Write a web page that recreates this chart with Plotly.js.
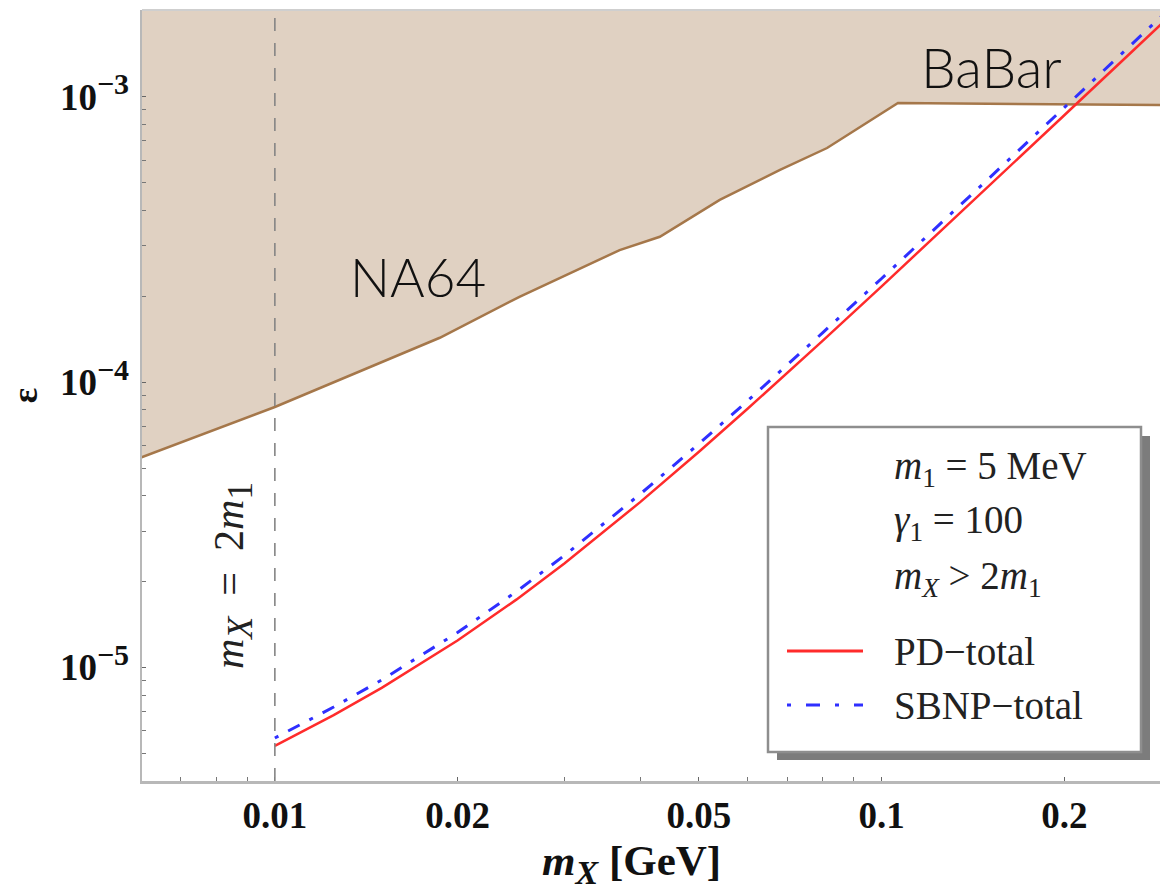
<!DOCTYPE html>
<html>
<head>
<meta charset="utf-8">
<script src="https://cdn.plot.ly/plotly-3.0.1.min.js"></script>
<style>
  html, body { margin: 0; padding: 0; background: #ffffff; }
  #chart { width: 1160px; height: 895px; }
</style>
</head>
<body>
<div id="chart"></div>
<script>
// Lower edge of the NA64 / BaBar excluded region (mass in GeV, kinetic mixing epsilon)
const na64Mass = [0.006, 0.01, 0.0187, 0.0253, 0.037, 0.0385, 0.0431, 0.0541, 0.068, 0.0813, 0.1064, 0.29];
const na64Eps  = [5.43e-5, 8.18e-5, 1.43e-4, 1.99e-4, 2.90e-4, 2.98e-4, 3.23e-4, 4.35e-4, 5.54e-4, 6.61e-4, 9.5e-4, 9.35e-4];

// Sensitivity curves for m1 = 5 MeV, gamma1 = 100
const massGrid  = [0.01, 0.0125, 0.015, 0.02, 0.025, 0.03, 0.04, 0.05, 0.06, 0.07, 0.08, 0.1, 0.12, 0.15, 0.2, 0.25, 0.29];
const pdTotal   = [5.31e-6, 6.81e-6, 8.48e-6, 1.243e-5, 1.729e-5, 2.315e-5, 3.797e-5, 5.70e-5, 8.03e-5, 1.079e-4, 1.398e-4, 2.165e-4, 3.107e-4, 4.842e-4, 8.61e-4, 1.345e-3, 1.81e-3];
const sbnpTotal = [5.66e-6, 7.27e-6, 9.04e-6, 1.326e-5, 1.844e-5, 2.469e-5, 4.05e-5, 6.08e-5, 8.56e-5, 1.151e-4, 1.491e-4, 2.307e-4, 3.308e-4, 5.157e-4, 9.16e-4, 1.429e-3, 1.923e-3];

// Threshold m_X = 2 m1
const thresholdMass = 0.01;
// Upper edge used to close the shaded region
const regionTop = 1e-2;

// Tick positions and labels
const xTickVals = [0.01, 0.02, 0.05, 0.1, 0.2];
const xTickText = ['0.01', '0.02', '0.05', '0.1', '0.2'];
const xMinorVals = [0.007, 0.008, 0.009, 0.03, 0.04, 0.06, 0.07, 0.08, 0.09];
const supOpen = '<sup><span style="font-size:30px">';
const supClose = '</span></sup>';
const yTickVals = [1e-5, 1e-4, 1e-3];
const yTickText = ['10' + supOpen + '\u22125' + supClose,
                   '10' + supOpen + '\u22124' + supClose,
                   '10' + supOpen + '\u22123' + supClose];
const yMinorVals = [5e-6, 6e-6, 7e-6, 8e-6, 9e-6,
                    2e-5, 3e-5, 4e-5, 5e-5, 6e-5, 7e-5, 8e-5, 9e-5,
                    2e-4, 3e-4, 4e-4, 5e-4, 6e-4, 7e-4, 8e-4, 9e-4, 2e-3];

// Plot-area pixel frame and helpers to place decorations in paper units
const L = 142, R = 1160, T = 10, B = 781;
const px = v => (v - L) / (R - L);
const py = v => (B - v) / (B - T);

const serif = 'Liberation Serif, Times New Roman, serif';
const sans = 'Lato, Liberation Sans, sans-serif';

const fillColor = '#e0d1c2';
const edgeColor = '#a5774a';
const red = '#ff2b2b';
const blue = '#2f2fff';
const blueDash = '4px,11px,13px,11px';

const traces = [
  {
    // shaded excluded region
    x: na64Mass.concat([na64Mass[na64Mass.length - 1], na64Mass[0]]),
    y: na64Eps.concat([regionTop, regionTop]),
    mode: 'lines', fill: 'toself', fillcolor: fillColor,
    line: { width: 0 }, hoverinfo: 'skip', showlegend: false
  },
  {
    x: na64Mass, y: na64Eps, mode: 'lines', name: 'NA64 / BaBar',
    line: { color: edgeColor, width: 2.5 }, showlegend: false
  },
  {
    x: massGrid, y: sbnpTotal, mode: 'lines', name: 'SBNP\u2212total',
    line: { color: blue, width: 3, dash: blueDash },
    showlegend: false
  },
  {
    x: massGrid, y: pdTotal, mode: 'lines', name: 'PD\u2212total',
    line: { color: red, width: 2.5 },
    showlegend: false
  }
];

const axisCommon = {
  type: 'log', showgrid: false, zeroline: false,
  showline: true, linecolor: '#b8b8b8', linewidth: 2.5,
  ticks: 'inside', ticklen: 4, tickwidth: 1, tickcolor: '#666',
  tickfont: { family: serif, size: 37, color: '#111', weight: 700 },
  tickmode: 'array'
};
const minorCommon = { tickmode: 'array', ticks: 'inside', ticklen: 4, tickwidth: 1, tickcolor: '#777', showgrid: false };

const layout = {
  width: 1160, height: 895,
  margin: { l: L, r: 1160 - R, t: T, b: 895 - B, pad: 0 },
  paper_bgcolor: '#ffffff', plot_bgcolor: '#ffffff',
  showlegend: false,
  xaxis: Object.assign({}, axisCommon, {
    range: [Math.log10(0.00604), Math.log10(0.2876)],
    tickvals: xTickVals, ticktext: xTickText,
    minor: Object.assign({ tickvals: xMinorVals }, minorCommon),
    ticklabelstandoff: 0
  }),
  yaxis: Object.assign({}, axisCommon, {
    range: [-5.3977, -2.6962],
    tickvals: yTickVals, ticktext: yTickText,
    minor: Object.assign({ tickvals: yMinorVals }, minorCommon),
    ticklabelstandoff: 3,
    title: { text: '\u03b5', font: { family: serif, size: 36, color: '#111', weight: 700 }, standoff: 12 }
  }),
  shapes: [
    // top frame
    { type: 'line', xref: 'paper', yref: 'paper', x0: 0, x1: 1, y0: 1, y1: 1,
      line: { color: '#cfcfcf', width: 2 } },
    // threshold m_X = 2 m1
    { type: 'line', xref: 'x', yref: 'paper', x0: thresholdMass, x1: thresholdMass, y0: 0, y1: 1,
      line: { color: '#858585', width: 1.6, dash: '13px,12px' } },
    // legend shadow and box
    { type: 'rect', xref: 'paper', yref: 'paper', x0: px(777), x1: px(1150), y0: py(436), y1: py(760),
      fillcolor: '#7c7c7c', line: { width: 0 } },
    { type: 'rect', xref: 'paper', yref: 'paper', x0: px(768), x1: px(1141), y0: py(427), y1: py(752),
      fillcolor: '#ffffff', line: { color: '#8e8e8e', width: 2.5 } },
    // legend samples
    { type: 'line', xref: 'paper', yref: 'paper', x0: px(787), x1: px(863), y0: py(651), y1: py(651),
      line: { color: red, width: 3 } },
    { type: 'line', xref: 'paper', yref: 'paper', x0: px(787), x1: px(863), y0: py(705), y1: py(705),
      line: { color: blue, width: 3, dash: '4px,15px,14px,15px' } }
  ],
  annotations: [
    { text: 'NA64', xref: 'paper', yref: 'paper', x: px(418), y: py(276),
      xanchor: 'center', yanchor: 'middle', showarrow: false,
      font: { family: sans, size: 53, color: '#111', weight: 300 } },
    { text: 'BaBar', xref: 'paper', yref: 'paper', x: px(991), y: py(67),
      xanchor: 'center', yanchor: 'middle', showarrow: false,
      font: { family: sans, size: 55, color: '#111', weight: 300 } },
    { text: '<i>m</i><sub><span style="font-size:36px"><i>X</i></span></sub>  =  2<i>m</i><sub><span style="font-size:36px">1</span></sub>',
      xref: 'paper', yref: 'paper',
      x: px(233), y: py(576), textangle: -90, xanchor: 'center', yanchor: 'middle', showarrow: false,
      font: { family: serif, size: 42, color: '#222' } },
    { text: '<b><i>m</i><sub><span style="font-size:34px"><i>X</i></span></sub> [GeV]</b>', xref: 'paper', yref: 'paper',
      x: px(631), y: py(864), xanchor: 'center', yanchor: 'middle', showarrow: false,
      font: { family: serif, size: 43, color: '#111' } },
    { text: '<i>m</i><sub>1</sub> = 5 MeV', xref: 'paper', yref: 'paper',
      x: px(892), y: py(468), xanchor: 'left', yanchor: 'middle', showarrow: false,
      font: { family: serif, size: 39, color: '#222' } },
    { text: '<i>\u03b3</i><sub>1</sub> = 100', xref: 'paper', yref: 'paper',
      x: px(892), y: py(522), xanchor: 'left', yanchor: 'middle', showarrow: false,
      font: { family: serif, size: 39, color: '#222' } },
    { text: '<i>m</i><sub><i>X</i></sub> > 2<i>m</i><sub>1</sub>', xref: 'paper', yref: 'paper',
      x: px(892), y: py(578), xanchor: 'left', yanchor: 'middle', showarrow: false,
      font: { family: serif, size: 39, color: '#222' } },
    { text: 'PD\u2212total', xref: 'paper', yref: 'paper',
      x: px(892), y: py(651), xanchor: 'left', yanchor: 'middle', showarrow: false,
      font: { family: serif, size: 39, color: '#222' } },
    { text: 'SBNP\u2212total', xref: 'paper', yref: 'paper',
      x: px(892), y: py(705), xanchor: 'left', yanchor: 'middle', showarrow: false,
      font: { family: serif, size: 39, color: '#222' } }
  ]
};

Plotly.newPlot('chart', traces, layout, { staticPlot: true, displayModeBar: false });
</script>
</body>
</html>
